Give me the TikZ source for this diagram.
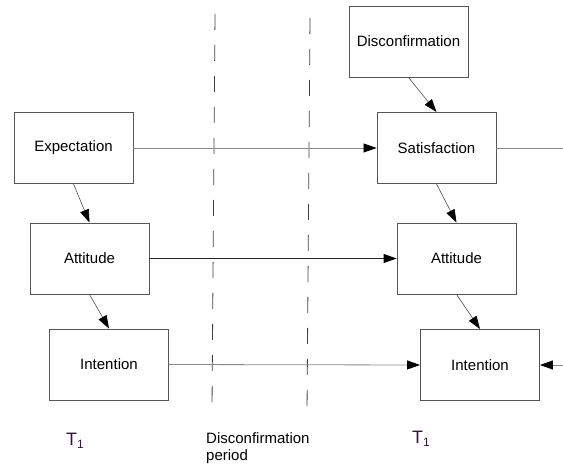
\documentclass[tikz,border=0pt]{standalone}
\usepackage{fontspec}
\setmainfont{Liberation Sans}
\usetikzlibrary{arrows.meta,calc}
\definecolor{boxline}{HTML}{555555}
\definecolor{linkgray}{HTML}{8A8A8A}
\definecolor{timecol}{HTML}{3A1440}
\begin{document}
\begin{tikzpicture}[x=1pt,y=-1pt,
  tip/.style={-{Triangle[length=13pt,width=9pt,color=black]}},
  box/.style={draw=boxline,line width=0.9pt,minimum width=119pt,minimum height=71pt,
    inner sep=0pt,font=\fontsize{15}{17}\selectfont},
  link/.style={draw=linkgray,line width=0.8pt,tip},
  plain/.style={draw=linkgray,line width=0.8pt},
  strong/.style={draw=black!85,line width=0.9pt,tip},
  diag/.style={draw=black!70,line width=0.6pt,tip},
  period/.style={draw=black!75,line width=0.8pt,dash pattern=on 16pt off 15pt},
  tlabel/.style={text=timecol,font=\fontsize{18}{20}\selectfont}]
\useasboundingbox (0,0) rectangle (563,465);

% period boundaries
\coordinate (d1a) at (215,14);  \coordinate (d1b) at (212,408);
\coordinate (d2a) at (310,18);  \coordinate (d2b) at (307,413);
\draw[period] (d1a) -- (d1b);
\draw[period] (d2a) -- (d2b);

% before the period
\node[box] (exp)  at (73.5,148) {Expectation};
\node[box] (attL) at (89.5,258.5) {Attitude};
\node[box] (intL) at (109,364.5) {Intention};

% after the period
\node[box] (disc) at (408.5,41.5) {Disconfirmation};
\node[box] (sat)  at (436.5,148) {Satisfaction};
\node[box] (attR) at (456.5,258.5) {Attitude};
\node[box] (intR) at (480,365) {Intention};

% free ends at the right margin
\coordinate (satOut) at (563,148);
\coordinate (intIn)  at (563,365);

% horizontal links
\draw[link] (exp.east) -- (sat.west);
\draw[strong] (attL.east) -- (attR.west);
\draw[link] (intL.east) -- (intR.west);
\draw[plain] (sat.east) -- (satOut);
\draw[link] (intIn) -- (intR.east);

% vertical links
\draw[diag] (exp.south) -- (attL.north);
\draw[diag] (attL.south) -- (intL.north);
\draw[diag] (disc.south) -- (sat.north);
\draw[diag] (sat.south) -- (attR.north);
\draw[diag] (attR.south) -- (intR.north);

% time labels
\node[tlabel] (t1L) at (75,441) {T\raisebox{-0.35ex}{\fontsize{12}{12}\selectfont 1}};
\node[tlabel] (t1R) at (421,439) {T\raisebox{-0.35ex}{\fontsize{12}{12}\selectfont 1}};
\node[anchor=north west,align=left,inner sep=0pt,
  font=\fontsize{15}{17}\selectfont] (dp) at (206,432) {Disconfirmation\\period};
\end{tikzpicture}
\end{document}
